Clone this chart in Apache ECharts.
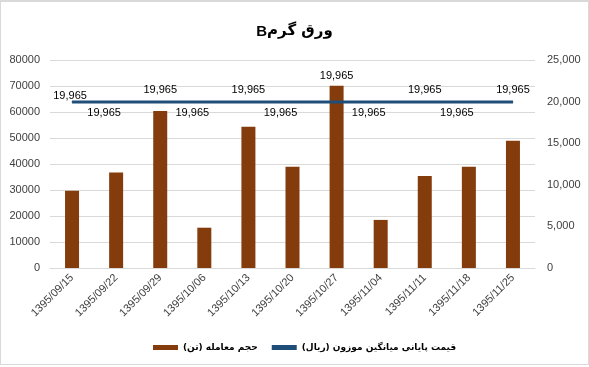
<!DOCTYPE html>
<html><head><meta charset="utf-8">
<script src="https://cdn.jsdelivr.net/npm/echarts@6/dist/echarts.min.js"></script>
<style>
html,body{margin:0;padding:0;background:#fff;}
#wrap{position:absolute;left:0;top:0;width:587px;height:362px;border:1px solid #d9d9d9;border-top:2px solid #d9d9d9;}
#c{width:589px;height:367px;position:absolute;left:0;top:0;}
</style></head><body>
<div id="wrap"></div>
<div id="c"></div>
<script>
const categories = ['1395/09/15','1395/09/22','1395/09/29','1395/10/06','1395/10/13','1395/10/20','1395/10/27','1395/11/04','1395/11/11','1395/11/18','1395/11/25'];
const volumeTons = [29700, 36700, 60400, 15500, 54300, 38900, 70100, 18500, 35400, 38900, 48900];
const priceRial = [19965, 19965, 19965, 19965, 19965, 19965, 19965, 19965, 19965, 19965, 19965];
const leftTicks = [0, 80000, 10000];
const rightTicks = [0, 25000, 5000];

const font = 'Liberation Sans, Arial, sans-serif';
const chart = echarts.init(document.getElementById('c'));
const priceData = priceRial.map((v, i) => ({
  value: v,
  label: {
    position: i % 2 === 0 ? 'top' : 'bottom',
    distance: i === 6 ? 20 : (i === 0 ? 0 : (i % 2 === 0 ? 6 : 5)),
    offset: i % 2 === 1 ? [-12, 0] : (i === 0 ? [-2, 0] : [0, 0])
  }
}));
chart.setOption({
  animation: false,
  title: {
    text: '{b|B}{a|ورق گرم}',
    left: 'center', top: 19,
    textStyle: {
      rich: {
        a: {fontFamily: 'DejaVu Sans', fontWeight: 'bold', fontSize: 15, color: '#000'},
        b: {fontFamily: font, fontSize: 15, color: '#000'}
      }
    }
  },
  grid: {left: 50, right: 54, top: 60, bottom: 99},
  legend: {
    bottom: 10, left: 148,
    itemWidth: 25, itemHeight: 5, itemGap: 14,
    textStyle: {fontFamily: 'DejaVu Sans', fontWeight: 'bold', fontSize: 9, color: '#000'},
    data: [
      {name: 'حجم معامله (تن)', icon: 'rect'},
      {name: 'قیمت پایانی میانگین موزون (ریال)', icon: 'rect'}
    ]
  },
  xAxis: {
    type: 'category', data: categories,
    axisLine: {lineStyle: {color: '#d9d9d9'}},
    axisTick: {show: false},
    axisLabel: {rotate: 45, fontFamily: font, fontSize: 11, color: '#404040', margin: 8, interval: 0}
  },
  yAxis: [
    {type: 'value', min: leftTicks[0], max: leftTicks[1], interval: leftTicks[2],
     splitLine: {lineStyle: {color: '#d9d9d9'}},
     axisLabel: {fontFamily: font, fontSize: 11, color: '#404040', margin: 10, formatter: v => String(v)}},
    {type: 'value', min: rightTicks[0], max: rightTicks[1], interval: rightTicks[2],
     splitLine: {show: false},
     axisLabel: {fontFamily: font, fontSize: 11, color: '#404040', margin: 12,
       formatter: v => v.toLocaleString('en-US')}}
  ],
  series: [
    {name: 'حجم معامله (تن)', type: 'bar', data: volumeTons, barWidth: 14,
     itemStyle: {color: '#843c0c'}},
    {name: 'قیمت پایانی میانگین موزون (ریال)', type: 'line', yAxisIndex: 1, data: priceData,
     symbol: 'circle', symbolSize: 1, showSymbol: true,
     lineStyle: {color: '#1f4e79', width: 3}, itemStyle: {color: '#1f4e79'},
     label: {show: true, fontFamily: font, fontSize: 11, color: '#000',
       formatter: p => p.value.toLocaleString('en-US')}}
  ]
});
</script>
</body></html>
